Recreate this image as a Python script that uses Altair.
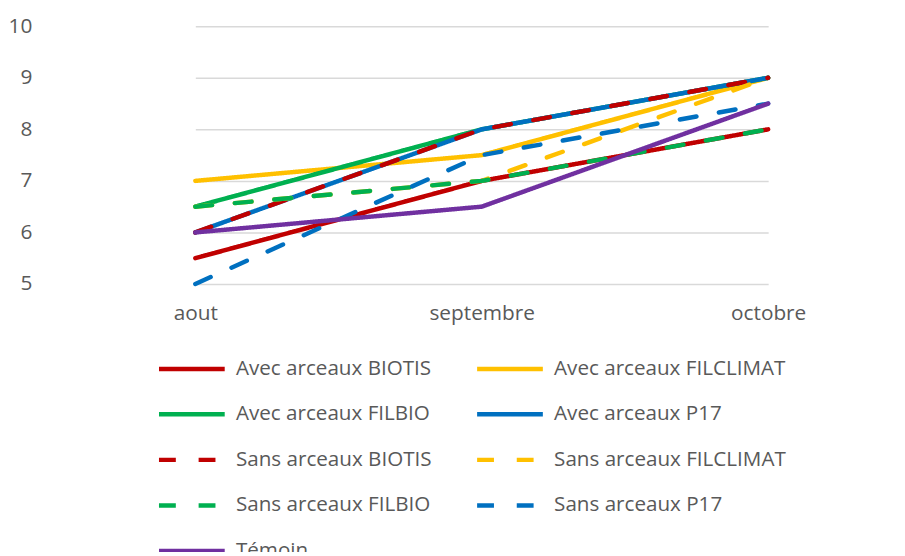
import altair as alt
import pandas as pd

months = ["aout", "septembre", "octobre"]
series = [
    "Avec arceaux BIOTIS", "Avec arceaux FILCLIMAT",
    "Avec arceaux FILBIO", "Avec arceaux P17",
    "Sans arceaux BIOTIS", "Sans arceaux FILCLIMAT",
    "Sans arceaux FILBIO", "Sans arceaux P17",
    "Témoin",
]
avec_biotis = [5.5, 7, 8]
avec_filclimat = [7, 7.5, 9]
avec_filbio = [6.5, 8, 9]
avec_p17 = [6, 8, 9]
sans_biotis = [6, 8, 9]
sans_filclimat = [6.5, 7, 9]
sans_filbio = [6.5, 7, 8]
sans_p17 = [5, 7.5, 8.5]
temoin = [6, 6.5, 8.5]

values = [avec_biotis, avec_filclimat, avec_filbio, avec_p17,
          sans_biotis, sans_filclimat, sans_filbio, sans_p17, temoin]
colors = ["#C00000", "#FFC000", "#00B050", "#0070C0",
          "#C00000", "#FFC000", "#00B050", "#0070C0", "#7030A0"]
solid = [1, 0]
dash = [17, 23]
dashes = [solid, solid, solid, solid, dash, dash, dash, dash, solid]

rows = []
for s, vals in zip(series, values):
    for m, v in zip(months, vals):
        rows.append({"serie": s, "mois": m, "valeur": v})
df = pd.DataFrame(rows)

FONT = "Open Sans"
LBL = "#595959"

legend = alt.Legend(
    title=None, orient="none", legendX=106, legendY=310, columns=2,
    direction="horizontal",
    symbolType="stroke", symbolSize=4400, symbolStrokeWidth=4.5,
    labelFontSize=20.8, labelFont=FONT, labelColor=LBL, labelOffset=9,
    rowPadding=0, columnPadding=36, labelLimit=400,
)

chart = alt.Chart(df).mark_line(strokeWidth=4.5, strokeCap="round").encode(
    x=alt.X("mois:N", sort=months, title=None,
            scale=alt.Scale(type="point", range=[145, 723], padding=0),
            axis=alt.Axis(labelAngle=0, ticks=False, domain=False, grid=False,
                          labelFontSize=21, labelFont=FONT, labelColor=LBL,
                          labelPadding=19)),
    y=alt.Y("valeur:Q", title=None,
            scale=alt.Scale(domain=[5, 10], nice=False, zero=False),
            axis=alt.Axis(values=[5, 6, 7, 8, 9, 10], ticks=False, domain=False,
                          gridColor="#D9D9D9", gridWidth=1.5,
                          labelFontSize=21, labelFont=FONT, labelColor=LBL,
                          labelPadding=20)),
    color=alt.Color("serie:N", sort=series,
                    scale=alt.Scale(domain=series, range=colors), legend=legend),
    strokeDash=alt.StrokeDash("serie:N", sort=series,
                              scale=alt.Scale(domain=series, range=dashes),
                              legend=legend),
).properties(
    width=853, height=260,
    autosize=alt.AutoSizeParams(type="none"),
    padding={"left": 44, "top": 16, "right": 0, "bottom": 268},
).configure_view(stroke=None)

chart.save("out.html", embed_options={"renderer": "svg", "actions": False})
